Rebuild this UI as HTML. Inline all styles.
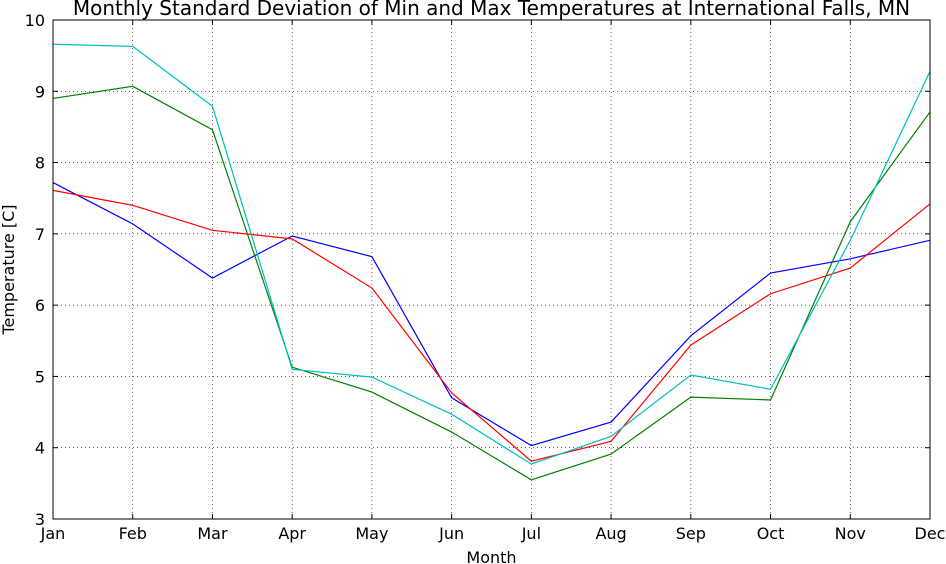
<!DOCTYPE html>
<html><head><meta charset="utf-8"><style>
body{margin:0;background:#fff;}
svg{display:block;font-family:"DejaVu Sans","Liberation Sans",sans-serif;}
</style></head><body>
<svg id="chart" width="946" height="564"></svg>
<script>
const months=["Jan","Feb","Mar","Apr","May","Jun","Jul","Aug","Sep","Oct","Nov","Dec"];
const yTicks=[3,4,5,6,7,8,9,10];
const blueVals=[7.72,7.14,6.38,6.97,6.68,4.70,4.03,4.36,5.57,6.45,6.65,6.91];
const redVals=[7.61,7.40,7.05,6.93,6.24,4.77,3.81,4.09,5.44,6.16,6.52,7.42];
const greenVals=[8.90,9.07,8.46,5.13,4.78,4.22,3.55,3.91,4.71,4.67,7.17,8.71];
const cyanVals=[9.66,9.63,8.79,5.10,4.99,4.47,3.77,4.16,5.02,4.82,6.91,9.28];

const L=53,R=930,T=20,B=519,ymin=3,ymax=10;
const xs=i=>L+(R-L)*i/(months.length-1);
const ys=v=>B-(B-T)*(v-ymin)/(ymax-ymin);
const NS="http://www.w3.org/2000/svg";
const svg=document.getElementById("chart");
function mk(tag,attrs,parent){const e=document.createElementNS(NS,tag);for(const k in attrs)e.setAttribute(k,attrs[k]);(parent||svg).appendChild(e);return e;}

months.forEach((m,i)=>{if(i>0&&i<months.length-1){const g=mk("line",{x1:xs(i),x2:xs(i),y1:T,y2:B,stroke:"#000","stroke-width":0.6,"stroke-dasharray":"1,3"});

}});
yTicks.forEach(v=>{if(v>ymin&&v<ymax){const g=mk("line",{x1:L,x2:R,y1:ys(v),y2:ys(v),stroke:"#000","stroke-width":0.6,"stroke-dasharray":"1,3"});

}});

const series=[[blueVals,"#0000ff","series-blue"],[redVals,"#ff0000","series-red"],[greenVals,"#008000","series-green"],[cyanVals,"#00bfbf","series-cyan"]];
series.forEach(([vals,col,name])=>{
  const p=mk("polyline",{points:vals.map((v,i)=>xs(i)+","+ys(v)).join(" "),fill:"none",stroke:col,"stroke-width":1.2});
  
  
});

const fr=mk("rect",{x:L,y:T,width:R-L,height:B-T,fill:"none",stroke:"#000","stroke-width":1});



months.forEach((m,i)=>{
  mk("line",{x1:xs(i),x2:xs(i),y1:B,y2:B-5,stroke:"#000"});
  mk("line",{x1:xs(i),x2:xs(i),y1:T,y2:T+5,stroke:"#000"});
  const t=mk("text",{x:xs(i),y:B+20,"text-anchor":"middle","font-size":16});
  t.textContent=m;
  
  
});
yTicks.forEach(v=>{
  mk("line",{x1:L,x2:L+5,y1:ys(v),y2:ys(v),stroke:"#000"});
  mk("line",{x1:R,x2:R-5,y1:ys(v),y2:ys(v),stroke:"#000"});
  const t=mk("text",{x:L-8,y:ys(v)+6,"text-anchor":"end","font-size":16});
  t.textContent=v;
  
  
});

const title=mk("text",{x:(L+R)/2,y:15,"text-anchor":"middle","font-size":20});
title.textContent="Monthly Standard Deviation of Min and Max Temperatures at International Falls, MN";


const xt=mk("text",{x:(L+R)/2,y:563,"text-anchor":"middle","font-size":16});
xt.textContent="Month";


const yt=mk("text",{x:0,y:0,"text-anchor":"middle","font-size":16,transform:`translate(14,${(T+B)/2}) rotate(-90)`});
yt.textContent="Temperature [C]";


</script>
</body></html>
